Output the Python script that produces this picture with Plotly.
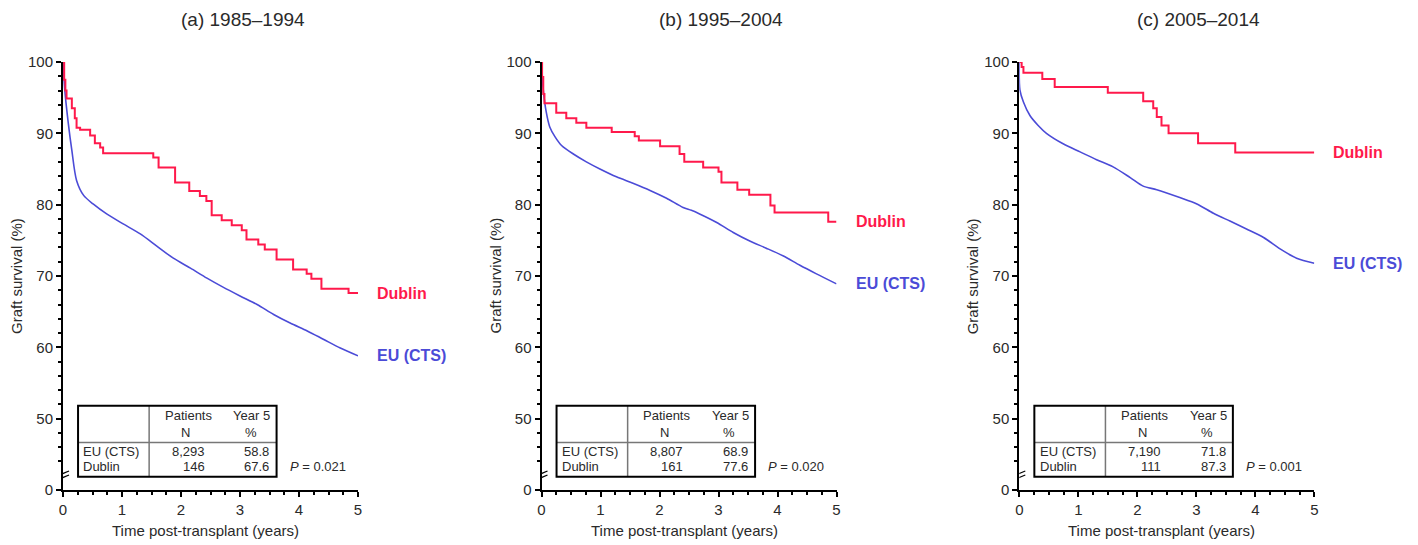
import plotly.graph_objects as go

# ---- data -----------------------------------------------------------------
panel_titles = ["(a) 1985–1994", "(b) 1995–2004", "(c) 2005–2014"]

# Dublin Kaplan-Meier steps (time in years, survival % after each step)
dublin_a_t = [0, 0.02, 0.04, 0.06, 0.15, 0.20, 0.23, 0.29, 0.46, 0.54, 0.63, 0.68, 1.53, 1.62,
              1.90, 2.14, 2.32, 2.43, 2.52, 2.69, 2.86, 3.03, 3.11, 3.31, 3.42, 3.62, 3.90, 4.13,
              4.21, 4.38, 4.84, 5.0]
dublin_a_v = [100, 97.5, 96.0, 94.9, 93.5, 92.1, 90.8, 90.5, 89.7, 88.6, 88.0, 87.2, 86.6, 85.2,
              83.1, 81.9, 81.2, 80.5, 78.5, 77.8, 77.1, 76.4, 75.1, 74.4, 73.7, 72.3, 70.9, 70.3,
              69.6, 68.2, 67.6, 67.6]

dublin_b_t = [0, 0.01, 0.03, 0.05, 0.25, 0.42, 0.59, 0.76, 1.19, 1.58, 1.65, 2.01, 2.34, 2.42,
              2.74, 3.00, 3.05, 3.32, 3.52, 3.88, 3.95, 4.86, 5.0]
dublin_b_v = [100, 97.9, 95.5, 94.2, 92.9, 92.1, 91.5, 90.8, 90.2, 89.6, 89.0, 88.2, 87.1, 86.0,
              85.2, 84.6, 83.1, 82.1, 81.4, 79.9, 78.9, 77.6, 77.6]

dublin_c_t = [0, 0.04, 0.07, 0.39, 0.60, 1.50, 2.10, 2.27, 2.33, 2.41, 2.53, 3.03, 3.66, 5.0]
dublin_c_v = [100, 99.3, 98.5, 97.6, 96.5, 95.7, 94.5, 93.5, 92.3, 91.1, 90.0, 88.6, 87.3, 87.3]

# EU (CTS) survival curves
eu_a_t = [0, 0.03, 0.09, 0.15, 0.23, 0.35, 0.51, 0.74, 1.02, 1.31, 1.59, 1.87, 2.16, 2.44,
          2.72, 3.00, 3.29, 3.57, 3.85, 4.14, 4.42, 4.70, 5.0]
eu_a_v = [100, 96.1, 91.4, 87.6, 83.4, 81.3, 80.1, 78.7, 77.3, 75.9, 74.2, 72.5, 71.1, 69.7,
          68.4, 67.2, 66.0, 64.6, 63.4, 62.3, 61.1, 59.9, 58.8]

eu_b_t = [0, 0.03, 0.08, 0.14, 0.23, 0.34, 0.54, 0.76, 0.99, 1.27, 1.55, 1.84, 2.12, 2.40,
          2.54, 2.68, 2.97, 3.25, 3.53, 3.81, 4.10, 4.38, 4.66, 5.0]
eu_b_v = [100, 96.1, 93.0, 90.9, 89.5, 88.3, 87.1, 86.0, 85.0, 83.9, 83.0, 82.0, 80.9, 79.6,
          79.2, 78.7, 77.5, 76.1, 74.9, 73.9, 72.8, 71.5, 70.3, 68.9]

eu_c_t = [0, 0.01, 0.07, 0.18, 0.32, 0.46, 0.75, 1.03, 1.31, 1.59, 1.88, 2.10, 2.33, 2.72,
          3.01, 3.29, 3.57, 3.85, 4.14, 4.42, 4.70, 5.0]
eu_c_v = [100, 96.1, 94.4, 92.5, 91.1, 90.0, 88.5, 87.4, 86.3, 85.3, 83.8, 82.6, 82.1, 81.0,
          80.1, 78.8, 77.7, 76.6, 75.4, 73.8, 72.5, 71.8]

# summary tables
eu_n = ["8,293", "8,807", "7,190"]
dublin_n = ["146", "161", "111"]
eu_year5 = [58.8, 68.9, 71.8]
dublin_year5 = [67.6, 77.6, 87.3]
p_values = ["0.021", "0.020", "0.001"]

y_tickvals = [40, 50, 60, 70, 80, 90, 100]
y_ticktext = ["0", "50", "60", "70", "80", "90", "100"]
y_minor = [v for v in range(44, 100, 2) if v % 10 != 0]
x_tickvals = [0, 1, 2, 3, 4, 5]

dublin_t = [dublin_a_t, dublin_b_t, dublin_c_t]
dublin_v = [dublin_a_v, dublin_b_v, dublin_c_v]
eu_t = [eu_a_t, eu_b_t, eu_c_t]
eu_v = [eu_a_v, eu_b_v, eu_c_v]

# ---- styling ----------------------------------------------------------------
W, H = 1418, 545
FONT = "Liberation Sans, Arial, sans-serif"
RED = "rgb(255,25,75)"
BLUE = "rgb(75,75,215)"
TXT = "#2a2a2a"

axis_left_px = [63, 541.5, 1019.3]
axis_width_px = 295
y_top_px, y_bot_px = 62, 490


def px_x(p):
    return p / W


def px_y(p):
    return 1 - p / H


fig = go.Figure()
annotations = []
shapes = []

for i in range(3):
    sfx = "" if i == 0 else str(i + 1)
    xa, ya = "x" + sfx, "y" + sfx

    fig.add_trace(go.Scatter(x=eu_t[i], y=eu_v[i], mode="lines",
                             line=dict(color=BLUE, width=1.6, shape="spline", smoothing=0.8),
                             xaxis=xa, yaxis=ya, showlegend=False))
    fig.add_trace(go.Scatter(x=dublin_t[i], y=dublin_v[i], mode="lines",
                             line=dict(color=RED, width=2, shape="hv"),
                             xaxis=xa, yaxis=ya, showlegend=False))

    x0 = px_x(axis_left_px[i])
    x1 = px_x(axis_left_px[i] + axis_width_px)
    axis_common = dict(showline=True, linecolor="black", linewidth=2, ticks="outside", ticklen=5,
                       tickwidth=1.5, tickcolor="black", showgrid=False, zeroline=False,
                       automargin=False, tickfont=dict(family=FONT, size=15, color=TXT))
    fig.layout["xaxis" + sfx] = dict(domain=[x0, x1], range=[0, 5], anchor=ya, tickvals=x_tickvals,
                                     minor=dict(dtick=0.25, tick0=0, ticklen=3, tickwidth=1.5,
                                                tickcolor="black", ticks="outside"),
                                     **axis_common)
    fig.layout["yaxis" + sfx] = dict(domain=[px_y(y_bot_px), px_y(y_top_px)], range=[40, 100],
                                     anchor=xa, tickvals=y_tickvals, ticktext=y_ticktext,
                                     minor=dict(tickvals=y_minor, ticklen=3, tickwidth=1.5,
                                                tickcolor="black", ticks="outside"),
                                     **axis_common)

    # panel title and axis titles
    cx = axis_left_px[i] + axis_width_px / 2
    annotations.append(dict(text=panel_titles[i], x=px_x(cx + 32), y=px_y(19), xref="paper",
                            yref="paper", xanchor="center", yanchor="middle", showarrow=False,
                            font=dict(family=FONT, size=19, color=TXT)))
    annotations.append(dict(text="Time post-transplant (years)", x=px_x(cx - 5), y=px_y(530),
                            xref="paper", yref="paper", xanchor="center", yanchor="middle",
                            showarrow=False, font=dict(family=FONT, size=15, color=TXT)))
    annotations.append(dict(text="Graft survival (%)", x=px_x(axis_left_px[i] - 47), y=px_y(276),
                            xref="paper", yref="paper", xanchor="center", yanchor="middle",
                            showarrow=False, textangle=-90,
                            font=dict(family=FONT, size=15, color=TXT)))

    # end-of-curve series labels
    lab_x = px_x(axis_left_px[i] + 312)
    annotations.append(dict(text="<b>Dublin</b>", x=lab_x, y=dublin_v[i][-1], xref="paper", yref=ya,
                            xanchor="left", yanchor="middle", showarrow=False,
                            font=dict(family=FONT, size=16, color=RED)))
    annotations.append(dict(text="<b>EU (CTS)</b>", x=lab_x, y=eu_v[i][-1], xref="paper", yref=ya,
                            xanchor="left", yanchor="middle", showarrow=False,
                            font=dict(family=FONT, size=16, color=BLUE)))

    # summary table
    tl, tr, tdiv = 0.255, 3.62, 1.46
    tt, tb, tsep = 51.8, 41.85, 46.66
    shapes.append(dict(type="line", xref=xa, yref=ya, x0=tdiv, x1=tdiv, y0=tb, y1=tt,
                       line=dict(color="#777", width=1.5)))
    shapes.append(dict(type="line", xref=xa, yref=ya, x0=tl, x1=tr, y0=tsep, y1=tsep,
                       line=dict(color="#777", width=1.5)))
    shapes.append(dict(type="rect", xref=xa, yref=ya, x0=tl, x1=tr, y0=tb, y1=tt,
                       line=dict(color="black", width=2)))
    tfont = dict(family=FONT, size=13, color=TXT)
    cells = [
        ("Patients", 2.12, 50.5, "center"), ("N", 2.08, 48.1, "center"),
        ("Year 5", 3.20, 50.5, "center"), ("%", 3.18, 48.1, "center"),
        ("EU (CTS)", 0.31, 45.35, "left"), ("Dublin", 0.31, 43.25, "left"),
        (eu_n[i], 2.44, 45.35, "right"), (dublin_n[i], 2.44, 43.25, "right"),
        (f"{eu_year5[i]:.1f}", 3.53, 45.35, "right"), (f"{dublin_year5[i]:.1f}", 3.53, 43.25, "right"),
    ]
    for text, tx, ty, anc in cells:
        annotations.append(dict(text=text, x=tx, y=ty, xref=xa, yref=ya, xanchor=anc,
                                yanchor="middle", showarrow=False, font=tfont))
    annotations.append(dict(text=f"<i>P</i> = {p_values[i]}", x=4.32, y=43.25, xref=xa, yref=ya,
                            xanchor="center", yanchor="middle", showarrow=False, font=tfont))

    # axis break mark
    for dy in (-3, 1):
        shapes.append(dict(type="line", xref=xa, yref=ya, xsizemode="pixel", ysizemode="pixel",
                           xanchor=0, yanchor=42.1, x0=-6, x1=6, y0=dy - 2, y1=dy + 3,
                           line=dict(color="black", width=1.2)))

fig.update_layout(width=W, height=H, autosize=False, margin=dict(l=0, r=0, t=0, b=0, pad=0),
                  paper_bgcolor="white", plot_bgcolor="white", annotations=annotations,
                  shapes=shapes, font=dict(family=FONT, color=TXT))
fig.write_html("out.html")
